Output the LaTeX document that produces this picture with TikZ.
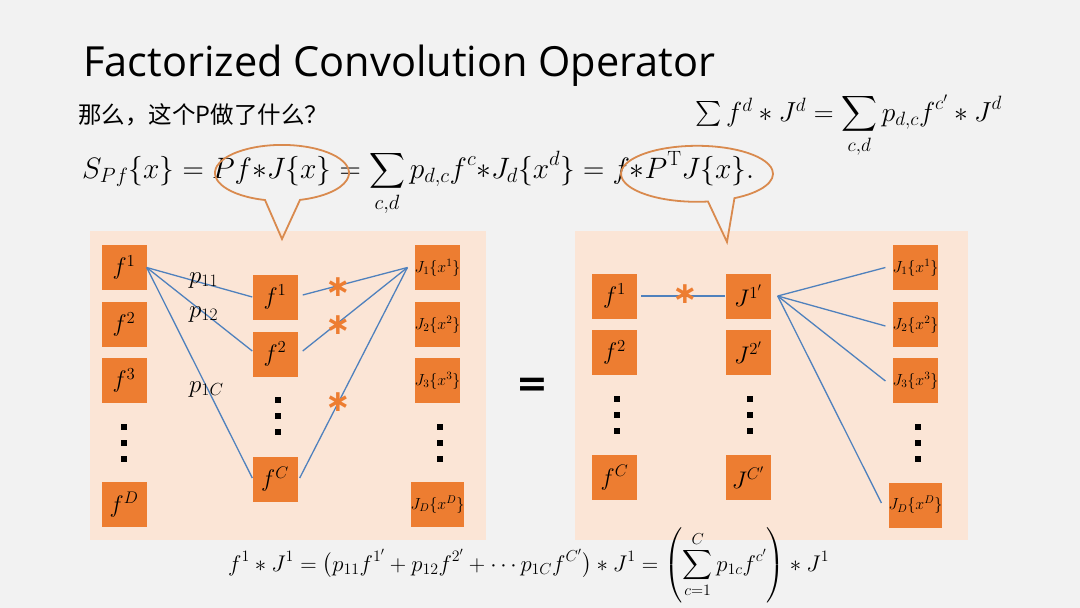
\RequirePackage{fix-cm}
\documentclass[tikz,border=0pt]{standalone}
\usepackage{amsmath}
\usepackage{fontspec}
\newfontfamily\titlefont{Open Sans}
\newfontfamily\cjk{Noto Sans CJK SC}
\newfontfamily\starfont{DejaVu Sans}
\usetikzlibrary{calc}
\definecolor{bg}{HTML}{F2F2F2}
\definecolor{panel}{HTML}{FBE5D6}
\definecolor{boxc}{HTML}{ED7D31}
\definecolor{link}{HTML}{4F81BD}
\definecolor{callout}{HTML}{D98A4E}
\definecolor{starc}{HTML}{ED7D31}
\begin{document}
\begin{tikzpicture}[x=1pt,y=-1pt,
  fbox/.style={fill=boxc, minimum width=45pt, minimum height=45pt, inner sep=0pt,
    font=\fontsize{24}{24}\selectfont},
  jbox/.style={fill=boxc, minimum width=45pt, minimum height=45pt, inner sep=0pt,
    font=\fontsize{16}{16}\selectfont},
  conn/.style={draw=link, line width=1.3pt},
  bubble/.style={draw=callout, line width=1.8pt},
  starnode/.style={text=starc, inner sep=0pt, font=\starfont\bfseries\fontsize{30}{30}\selectfont},
  plabel/.style={anchor=base west, inner sep=0pt, font=\fontsize{25}{25}\selectfont},
  dotsq/.style={fill=black},
]
\useasboundingbox (0,0) rectangle (1080,608);
\fill[bg] (0,0) rectangle (1080,608);

% panels
\fill[panel] (90,231) rectangle (486,540);
\fill[panel] (575,231) rectangle (968,540);

% title
\node[anchor=base west, inner sep=0pt, font=\titlefont\fontsize{41.5}{41.5}\selectfont] (title) at (83,76) {Factorized Convolution Operator};
\node[anchor=base west, inner sep=0pt, font=\cjk\fontsize{23.5}{23.5}\selectfont] (question) at (78,123) {那么，这个P做了什么？};

% equations
\node[anchor=base west, inner sep=0pt, font=\fontsize{29.5}{29.5}\selectfont] (maineq) at (82,178)
  {$\displaystyle S_{Pf}\{x\}=Pf{*}J\{x\}=\sum_{c,d}p_{d,c}f^c{*}J_d\{x^d\}=f{*}P^{\mathrm{T}}J\{x\}.$};
\node[anchor=base west, inner sep=0pt, font=\fontsize{27.5}{27.5}\selectfont] (topeq) at (695,121)
  {$\textstyle\sum f^d * J^d = \displaystyle\sum_{c,d} p_{d,c}f^{c'} * J^d$};
\node[anchor=base west, inner sep=0pt, font=\fontsize{22.7}{22.7}\selectfont] (boteq) at (228,571)
  {$\displaystyle f^1 * J^1 = \bigl(p_{11}f^{1'}+p_{12}f^{2'}+\cdots p_{1C}f^{C'}\bigr)*J^1=\left(\sum_{c=1}^{C}p_{1c}f^{c'}\right)*J^1$};

% left panel boxes
\node[fbox] (lf1) at (124,267.5) {$f^1$};
\node[fbox] (lf2) at (124,324.5) {$f^2$};
\node[fbox] (lf3) at (124,380.5) {$f^3$};
\node[fbox] (lfD) at (124,504.5) {$f^D$};
\node[fbox] (mf1) at (275,297) {$f^1$};
\node[fbox] (mf2) at (275,354) {$f^2$};
\node[fbox] (mfC) at (275,479) {$f^C$};
\node[jbox] (lJ1) at (437.5,267.5) {$J_1\{x^1\}$};
\node[jbox] (lJ2) at (437.5,324.5) {$J_2\{x^2\}$};
\node[jbox] (lJ3) at (437.5,380.5) {$J_3\{x^3\}$};
\node[jbox] (lJD) at (437.5,504.5) {$J_D\{x^D\}$};

% right panel boxes
\node[fbox] (rf1) at (614.5,296) {$f^1$};
\node[fbox] (rf2) at (614.5,352.5) {$f^2$};
\node[fbox] (rfC) at (614.5,477.5) {$f^C$};
\node[fbox] (rp1) at (748,296) {$J^{1'}$};
\node[fbox] (rp2) at (748,352.5) {$J^{2'}$};
\node[fbox] (rpC) at (748,477.5) {$J^{C'}$};
\node[jbox] (rJ1) at (915.5,267.5) {$J_1\{x^1\}$};
\node[jbox] (rJ2) at (915.5,324.5) {$J_2\{x^2\}$};
\node[jbox] (rJ3) at (915.5,380.5) {$J_3\{x^3\}$};
\node[jbox] (rJD) at (915.5,505) {$J_D\{x^D\}$};

% vertical dots
\foreach \x/\y in {124/427, 278/400, 440/427, 617/399, 750/399, 918/427}{
  \foreach \k in {0,16,32}{
    \fill[dotsq] (\x-3,\y+\k-3) rectangle (\x+3,\y+\k+3);
  }
}

% connection points
\coordinate (lJ1in) at ($(lJ1.west)+(-7,0)$);
\coordinate (rJ1in) at ($(rJ1.west)+(-7,0)$);
\coordinate (rJ2in) at ($(rJ2.west)+(-7,1.5)$);
\coordinate (rJ3in) at ($(rJ3.west)+(-7,0.5)$);
\coordinate (rJDin) at ($(rJD.west)+(-7,-2)$);
\coordinate (rp1out) at ($(rp1.east)+(7,0)$);
\coordinate (rf1out) at ($(rf1.east)+(4,0)$);
\coordinate (mf1out) at ($(mf1.east)+(5,-2)$);
\coordinate (mf2out) at ($(mf2.east)+(5,-3)$);
\coordinate (mfCout) at ($(mfC.east)+(2,-1)$);
\coordinate (mf2in) at ($(mf2.west)+(0,-3)$);
\coordinate (mfCin) at ($(mfC.west)+(0,-1)$);

% left connectors
\draw[conn] (lf1.east) -- (mf1.west);
\draw[conn] (lf1.east) -- (mf2in);
\draw[conn] (lf1.east) -- (mfCin);
\draw[conn] (mf1out) -- (lJ1in);
\draw[conn] (mf2out) -- (lJ1in);
\draw[conn] (mfCout) -- (lJ1in);

% right connectors
\draw[conn] (rf1out) -- (rp1.west);
\draw[conn] (rp1out) -- (rJ1in);
\draw[conn] (rp1out) -- (rJ2in);
\draw[conn] (rp1out) -- (rJ3in);
\draw[conn] (rp1out) -- (rJDin);

% stars
\node[starnode] (s1) at (338,287) {∗};
\node[starnode] (s2) at (338,325) {∗};
\node[starnode] (s3) at (338,402) {∗};
\node[starnode] (s4) at (685,294) {∗};

% p labels
\node[plabel] (p11) at (189,283) {$p_{11}$};
\node[plabel] (p12) at (189,317) {$p_{12}$};
\node[plabel] (p1C) at (189,392) {$p_{1C}$};

% equals
\node[inner sep=0pt, font=\starfont\bfseries\fontsize{38}{38}\selectfont] (eqsign) at (532,387) {=};

% callouts
\coordinate (lapex) at (282,239);
\coordinate (lstart) at (265,200);
\draw[bubble] (lstart) arc[start angle=104.7, end angle=434.4, x radius=67, y radius=28] -- (lapex) -- cycle;
\coordinate (rapex) at (727,242);
\coordinate (rstart) at (708,201.5);
\draw[bubble] (rstart) arc[start angle=81.7, end angle=420.5, x radius=76, y radius=28] -- (rapex) -- cycle;
\end{tikzpicture}
\end{document}
